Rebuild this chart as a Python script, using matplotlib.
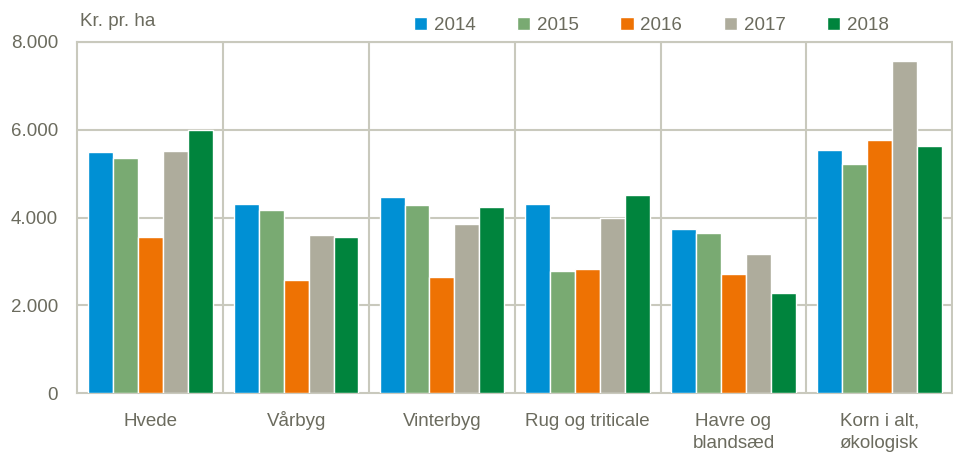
import numpy as np
import matplotlib.pyplot as plt
from matplotlib import font_manager

# Data
categories = ["Hvede", "Vårbyg", "Vinterbyg", "Rug og triticale",
              "Havre og\nblandsæd", "Korn i alt,\nøkologisk"]
years = ["2014", "2015", "2016", "2017", "2018"]
v2014 = [5490, 4310, 4460, 4300, 3740, 5540]
v2015 = [5350, 4170, 4290, 2790, 3660, 5220]
v2016 = [3550, 2580, 2640, 2820, 2720, 5760]
v2017 = [5510, 3600, 3850, 3990, 3170, 7575]
v2018 = [6000, 3560, 4240, 4520, 2280, 5630]
yticks = [0, 2000, 4000, 6000, 8000]
ytick_labels = ["0", "2.000", "4.000", "6.000", "8.000"]

colors = ["#0090d4", "#79aa72", "#ee7203", "#aeac9c", "#00843d"]
text_col = "#6b6b5e"
grid_col = "#c9c9bd"

names = {f.name for f in font_manager.fontManager.ttflist}
family = "Liberation Sans Narrow" if "Liberation Sans Narrow" in names else "Liberation Sans"
plt.rcParams["font.family"] = [family, "DejaVu Sans"]

fig = plt.figure(figsize=(9.54, 4.54), dpi=100)
ax = fig.add_axes([0.0812, 0.1337, 0.9168, 0.7738])

series = [v2014, v2015, v2016, v2017, v2018]
x = np.arange(len(categories))
w = 0.171
for i, (vals, yr) in enumerate(zip(series, years)):
    ax.bar(x + (i - 2) * w, vals, w, color=colors[i], edgecolor="white",
           linewidth=1.0, label=yr, zorder=3)

ax.set_xlim(-0.5, len(categories) - 0.5)
ax.set_ylim(0, 8000)
ax.set_yticks(yticks)
ax.set_yticklabels(ytick_labels)
ax.set_xticks(x)
ax.set_xticklabels([])

# category labels, line by line on a common baseline
for xi, lab in zip(x, categories):
    for j, line in enumerate(lab.split("\n")):
        ax.annotate(line, xy=(xi, 0), xycoords=("data", "axes fraction"),
                    xytext=(0, -32.5 - 22.5 * j), textcoords="offset pixels",
                    ha="center", va="baseline", fontsize=13.5, color=text_col)

# horizontal grid + vertical category separators
for yv in yticks[1:]:
    ax.axhline(yv, color=grid_col, lw=1.5, zorder=1)
for xv in np.arange(0.5, len(categories) - 0.5, 1):
    ax.axvline(xv, color=grid_col, lw=1.5, zorder=1)

for s in ax.spines.values():
    s.set_color(grid_col)
    s.set_linewidth(1.5)

ax.tick_params(axis="both", length=0, labelsize=13.5, colors=text_col)
ax.tick_params(axis="y", pad=14)

ax.text(0.003, 1.035, "Kr. pr. ha", transform=ax.transAxes, fontsize=13.5,
        color=text_col, va="bottom", ha="left")

leg = ax.legend(loc="lower left", bbox_to_anchor=(0.376, 1.0), ncol=5,
                frameon=False, fontsize=13.5, handlelength=0.7, handleheight=0.7,
                handletextpad=0.35, columnspacing=2.23, borderaxespad=0)
for t in leg.get_texts():
    t.set_color(text_col)

fig.savefig("out.png", dpi=100)
